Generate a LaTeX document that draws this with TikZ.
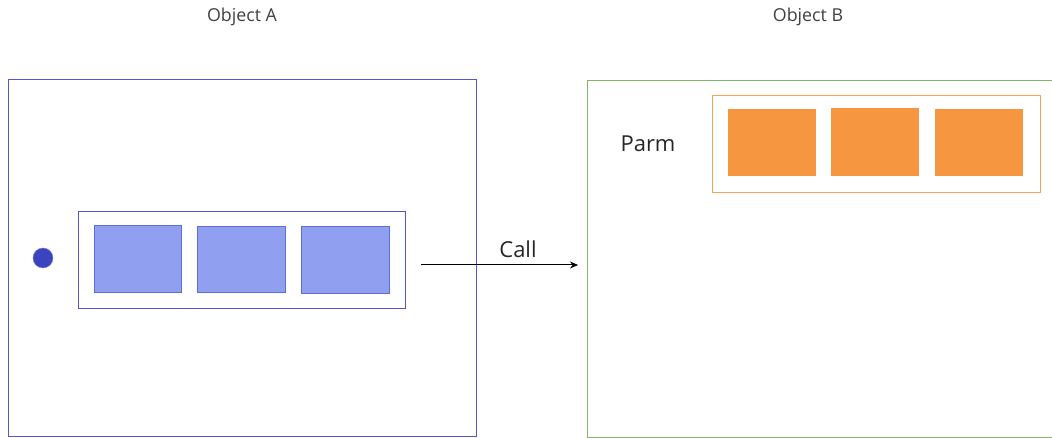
\documentclass[tikz,border=0pt]{standalone}
\usepackage{fontspec}
\setmainfont{Open Sans}
\usetikzlibrary{arrows.meta}
\definecolor{bluebox}{HTML}{5555CC}
\definecolor{bluefill}{HTML}{919FF0}
\definecolor{blueedge}{HTML}{5B70D6}
\definecolor{dotblue}{HTML}{3B44BF}
\definecolor{greenbox}{HTML}{82B366}
\definecolor{orangefill}{HTML}{F69640}
\definecolor{orangeedge}{HTML}{F8A25A}
\definecolor{txtgray}{HTML}{404040}
\tikzset{
  objframe/.style={line width=1pt},
  bluecell/.style={fill=bluefill, draw=blueedge, line width=0.8pt},
  orangecell/.style={fill=orangefill, draw=none},
  titletext/.style={font=\fontsize{17.8}{20}\selectfont, text=txtgray, inner sep=0pt},
  bigtext/.style={font=\fontsize{22}{26}\selectfont, text=black!85, inner sep=0pt},
}
\begin{document}
\begin{tikzpicture}[x=1pt,y=-1pt]
\useasboundingbox (0,0) rectangle (1052,438);
% Object A
\draw[objframe, draw=bluebox] (8,80) rectangle (476,436);
\node[titletext] (titleA) at (242,17) {Object A};
\draw[line width=0.9pt, draw=bluebox] (78,211) rectangle (405,308);
\draw[bluecell] (94,225) rectangle (181,292);
\draw[bluecell] (197,226) rectangle (285,292);
\draw[bluecell] (301,226) rectangle (389,293);
\node[circle, fill=dotblue, draw=dotblue!70, minimum size=20pt, inner sep=0pt] (dot) at (43,258) {};
% Object B
\draw[objframe, draw=greenbox] (1060,81) -- (587,81) -- (587,437) -- (1060,437);
\node[titletext] (titleB) at (808,17) {Object B};
\node[bigtext] (parm) at (648,144) {Parm};
\draw[line width=0.9pt, draw=orangeedge] (712,95) rectangle (1040,192);
\fill[orangecell] (728,109) rectangle (816,176);
\fill[orangecell] (831,108) rectangle (919,176);
\fill[orangecell] (935,109) rectangle (1023,176);
% Call arrow
\coordinate (callstart) at (421,265);
\coordinate (callend) at (578,265);
\draw[line width=1pt, -{Stealth[length=8pt,width=7pt]}] (callstart) -- (callend);
\node[bigtext] (call) at (518,249) {Call};
\end{tikzpicture}
\end{document}
